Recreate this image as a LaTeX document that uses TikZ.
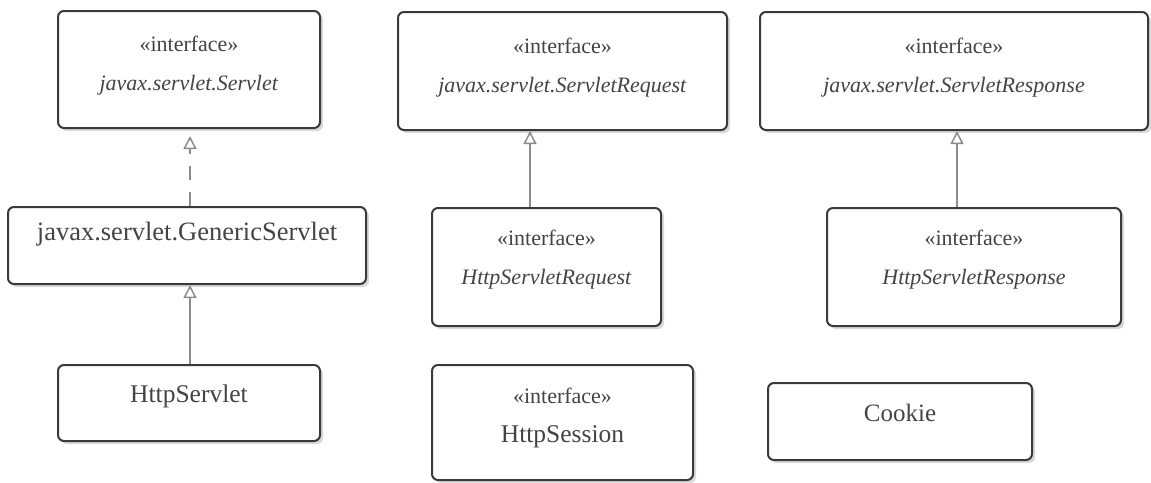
\documentclass[tikz,border=0pt]{standalone}
\usepackage{fontspec}
\setmainfont{Liberation Serif}
\usetikzlibrary{arrows.meta,shadows,calc}
\definecolor{boxline}{HTML}{3A3A3A}
\definecolor{txt}{HTML}{444444}
\definecolor{conn}{HTML}{8C8C8C}
\tikzset{
  umlbox/.style={draw=boxline, line width=2pt, rounded corners=6pt, fill=white,
    drop shadow={shadow xshift=3pt, shadow yshift=-3pt, fill=black!25, opacity=0.6},
    align=center, text=txt, inner sep=0pt, text depth=12pt,
    font=\fontsize{22}{39}\selectfont},
  realize/.style={draw=conn, line width=1.6pt, -{Triangle[open, length=13pt, width=13pt, line width=1.5pt]}},
}
\begin{document}
\begin{tikzpicture}[x=1pt, y=-1pt]
\useasboundingbox (0,0) rectangle (1151,482);
\node[umlbox, minimum width=262pt, minimum height=117pt] (servlet) at (189,69.5)
  {«interface»\\\textit{javax.servlet.Servlet}};
\node[umlbox, minimum width=329pt, minimum height=118pt] (req) at (562.5,71)
  {«interface»\\\textit{javax.servlet.ServletRequest}};
\node[umlbox, minimum width=388pt, minimum height=118pt] (resp) at (954,71)
  {«interface»\\\textit{javax.servlet.ServletResponse}};
\node[umlbox, minimum width=358pt, minimum height=77pt, text depth=28pt, font=\fontsize{26.5}{39}\selectfont] (generic) at (187,245.5)
  {javax.servlet.GenericServlet};
\node[umlbox, minimum width=229pt, minimum height=118pt, text depth=20pt] (hreq) at (546.5,267)
  {«interface»\\\textit{HttpServletRequest}};
\node[umlbox, minimum width=294pt, minimum height=118pt, text depth=20pt] (hresp) at (974,267)
  {«interface»\\\textit{HttpServletResponse}};
\node[umlbox, minimum width=262pt, minimum height=76pt, text depth=18pt, font=\fontsize{25.5}{39}\selectfont] (http) at (189,403)
  {HttpServlet};
\node[umlbox, minimum width=261pt, minimum height=115pt, text depth=14pt] (session) at (562.5,422.5)
  {«interface»\\{\fontsize{25.5}{39}\selectfont HttpSession}};
\node[umlbox, minimum width=264pt, minimum height=77pt, text depth=18pt, font=\fontsize{25}{39}\selectfont] (cookie) at (900,421.5)
  {Cookie};
\coordinate (xs) at (190,0);
\coordinate (xq) at (530,0);
\coordinate (xr) at (957,0);
\draw[realize, dash pattern=on 14pt off 12pt, shorten >=7pt] (generic.north -| xs) -- (servlet.south -| xs);
\draw[realize] (http.north -| xs) -- (generic.south -| xs);
\draw[realize] (hreq.north -| xq) -- (req.south -| xq);
\draw[realize] (hresp.north -| xr) -- (resp.south -| xr);
\end{tikzpicture}
\end{document}
